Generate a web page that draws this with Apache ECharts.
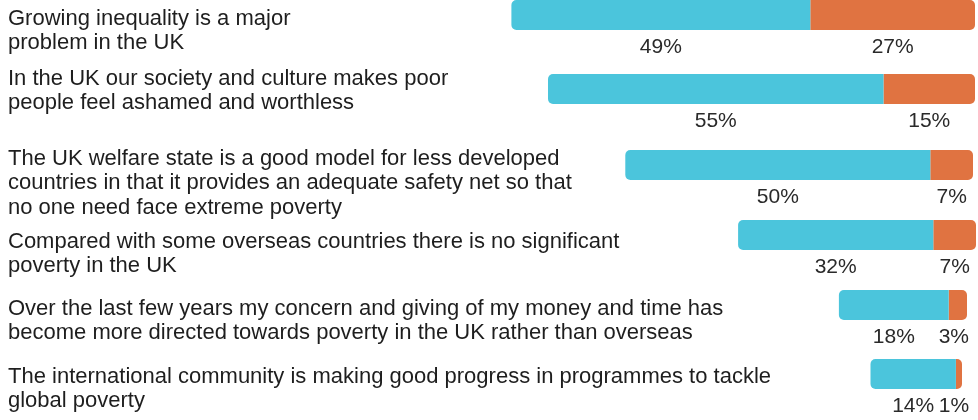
<!DOCTYPE html>
<html>
<head>
<meta charset="utf-8">
<script src="https://cdn.jsdelivr.net/npm/echarts@6/dist/echarts.min.js"></script>
<style>
html,body{margin:0;padding:0;background:#fff;}
#chart{width:978px;height:420px;}
</style>
</head>
<body>
<div id="chart"></div>
<script>
// ---- data ----
var categories = [
  "Growing inequality is a major\nproblem in the UK",
  "In the UK our society and culture makes poor\npeople feel ashamed and worthless",
  "The UK welfare state is a good model for less developed\ncountries in that it provides an adequate safety net so that\nno one need face extreme poverty",
  "Compared with some overseas countries there is no significant\npoverty in the UK",
  "Over the last few years my concern and giving of my money and time has\nbecome more directed towards poverty in the UK rather than overseas",
  "The international community is making good progress in programmes to tackle\nglobal poverty"
];
var agree = [49, 55, 50, 32, 18, 14];
var disagree = [27, 15, 7, 7, 3, 1];

// ---- layout (pixels) ----
var barTop = [0, 74, 150, 220, 290, 359];
var barRight = [3, 3, 5, 2, 11, 16];
var textPad = [-8.5, -22.5, -18.5, -5.5, -8.5, -9.5];
var orangeLabelShift = [0, 0, 0, 0, -4, -5];
var W = 978, axisWidth = 610, barH = 30, textLeft = 8;

var CYAN = '#4bc5dc', ORANGE = '#e07341';
var FONT = "'Liberation Sans', Arial, sans-serif";

var grids = [], xAxes = [], yAxes = [], series = [];
categories.forEach(function (cat, i) {
  var left = W - barRight[i] - axisWidth;
  grids.push({ top: barTop[i], height: barH, right: barRight[i], width: axisWidth, containLabel: false });
  xAxes.push({ gridIndex: i, type: 'value', min: 0, max: 100, inverse: true, show: false });
  yAxes.push({
    gridIndex: i, type: 'category', data: [cat],
    axisLine: { show: false }, axisTick: { show: false }, splitLine: { show: false },
    axisLabel: {
      margin: left - textLeft, align: 'left', verticalAlign: 'top',
      padding: [textPad[i], 0, 0, 0], lineHeight: 24.5,
      fontSize: 22, fontFamily: FONT, color: '#1e1e1e'
    }
  });
  var lbl = {
    show: true, position: 'bottom', distance: 7, formatter: '{c}%',
    fontSize: 21, fontFamily: FONT, color: '#2a2a2a'
  };
  series.push({
    type: 'bar', name: 'Disagree', xAxisIndex: i, yAxisIndex: i, stack: 's' + i,
    barWidth: barH,
    data: [{ value: disagree[i], label: { offset: [orangeLabelShift[i], 0] } }],
    itemStyle: { color: ORANGE, borderRadius: [0, 5, 5, 0] }, label: lbl
  });
  series.push({
    type: 'bar', name: 'Agree', xAxisIndex: i, yAxisIndex: i, stack: 's' + i,
    barWidth: barH, data: [agree[i]],
    itemStyle: { color: CYAN, borderRadius: [5, 0, 0, 5] }, label: lbl
  });
});

var chart = echarts.init(document.getElementById('chart'), null, { renderer: 'canvas' });
chart.setOption({
  animation: false,
  grid: grids, xAxis: xAxes, yAxis: yAxes, series: series
});
</script>
</body>
</html>
